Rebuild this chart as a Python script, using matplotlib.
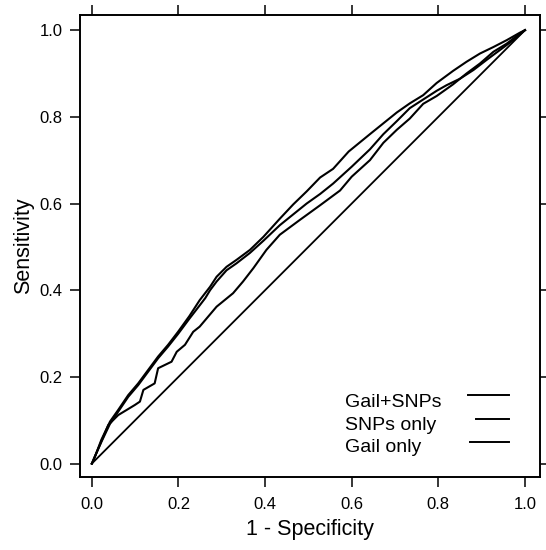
import matplotlib
matplotlib.use("Agg")
import matplotlib.pyplot as plt

plt.rcParams['font.family'] = ['Liberation Sans', 'DejaVu Sans']

# Gail+SNPs (top curve)
gs_fpr = [0, 0.003, 0.022, 0.042, 0.061, 0.084, 0.107, 0.130, 0.153, 0.176, 0.199, 0.225,
          0.249, 0.273, 0.288, 0.311, 0.334, 0.365, 0.396, 0.434, 0.465, 0.496, 0.527, 0.557,
          0.593, 0.642, 0.673, 0.704, 0.734, 0.765, 0.796, 0.834, 0.865, 0.896, 0.927, 0.958,
          0.988, 1.0]
gs_tpr = [0, 0.005, 0.055, 0.097, 0.124, 0.158, 0.185, 0.216, 0.247, 0.274, 0.304, 0.340,
          0.377, 0.408, 0.431, 0.454, 0.470, 0.493, 0.523, 0.565, 0.598, 0.628, 0.660, 0.680,
          0.720, 0.760, 0.785, 0.810, 0.831, 0.850, 0.878, 0.906, 0.927, 0.946, 0.961, 0.977,
          0.994, 1.0]

# SNPs only (middle curve)
snp_fpr = [0, 0.005, 0.022, 0.042, 0.061, 0.084, 0.107, 0.130, 0.153, 0.176, 0.199, 0.225,
           0.249, 0.262, 0.273, 0.288, 0.311, 0.334, 0.365, 0.396, 0.434, 0.465, 0.496, 0.527,
           0.557, 0.600, 0.642, 0.673, 0.704, 0.734, 0.765, 0.796, 0.819, 0.850, 0.881, 0.911,
           0.942, 0.973, 1.0]
snp_tpr = [0, 0.012, 0.050, 0.092, 0.120, 0.154, 0.181, 0.212, 0.243, 0.270, 0.299, 0.334,
           0.365, 0.382, 0.400, 0.420, 0.446, 0.462, 0.486, 0.514, 0.550, 0.575, 0.600, 0.622,
           0.646, 0.685, 0.725, 0.760, 0.790, 0.820, 0.840, 0.860, 0.873, 0.888, 0.908, 0.931,
           0.954, 0.977, 1.0]

# Gail only (lower curve)
gail_fpr = [0, 0.007, 0.038, 0.061, 0.099, 0.111, 0.119, 0.145, 0.153, 0.184, 0.196, 0.215,
            0.234, 0.249, 0.288, 0.326, 0.349, 0.373, 0.403, 0.434, 0.480, 0.527, 0.573, 0.600,
            0.642, 0.673, 0.704, 0.734, 0.765, 0.796, 0.834, 0.865, 0.896, 0.927, 0.958, 0.988,
            1.0]
gail_tpr = [0, 0.016, 0.089, 0.112, 0.135, 0.143, 0.170, 0.185, 0.220, 0.235, 0.258, 0.274,
            0.304, 0.316, 0.362, 0.393, 0.420, 0.451, 0.493, 0.528, 0.562, 0.596, 0.630, 0.662,
            0.700, 0.740, 0.770, 0.796, 0.830, 0.848, 0.875, 0.900, 0.923, 0.950, 0.969, 0.992,
            1.0]

diag = [0, 1]
ticks = [0.0, 0.2, 0.4, 0.6, 0.8, 1.0]
tick_labels = ["0.0", "0.2", "0.4", "0.6", "0.8", "1.0"]
legend_labels = ["Gail+SNPs", "SNPs only", "Gail only"]

fig = plt.figure(figsize=(5.46, 5.5), dpi=100)
ax = fig.add_axes([0.146, 0.1327, 0.8425, 0.8393])

lw = 1.5
ax.plot(gs_fpr, gs_tpr, color='black', lw=lw)
ax.plot(snp_fpr, snp_tpr, color='black', lw=lw)
ax.plot(gail_fpr, gail_tpr, color='black', lw=lw)
ax.plot(diag, diag, color='black', lw=1.3)

ax.set_xlim(-0.028, 1.034)
ax.set_ylim(-0.031, 1.034)

ax.set_xticks(ticks)
ax.set_xticklabels(tick_labels)
ax.set_yticks(ticks)
ax.set_yticklabels(tick_labels)
ax.tick_params(direction='out', length=7.2, width=1.1, labelsize=12,
               top=True, right=True, labeltop=False, labelright=False)
ax.tick_params(axis='x', pad=7.5)
ax.tick_params(axis='y', pad=5)
for s in ax.spines.values():
    s.set_linewidth(1.4)

ax.set_xlabel("1 - Specificity", fontsize=15.5)
ax.set_ylabel("Sensitivity", fontsize=15.5)
ax.xaxis.set_label_coords(0.5, -0.09)
ax.yaxis.set_label_coords(-0.10, 0.502)

# legend (text left, line right)
text_y = [0.151, 0.102, 0.054]
line_y = [0.177, 0.125, 0.0765]
line_x0 = [0.8435, 0.8615, 0.848]
for lab, ty, ly, x0 in zip(legend_labels, text_y, line_y, line_x0):
    ax.text(0.577, ty, lab, transform=ax.transAxes, fontsize=14, va='baseline', ha='left')
    ax.plot([x0, 0.933], [ly, ly], transform=ax.transAxes, color='black', lw=1.4)

fig.savefig("out.png", dpi=100)
